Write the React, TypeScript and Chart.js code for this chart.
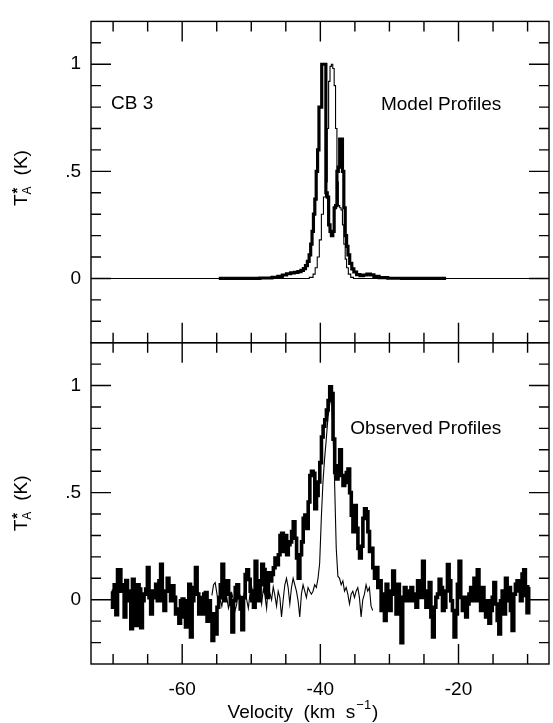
import React, { useEffect, useRef } from 'react';
import { Chart, registerables } from 'chart.js';

Chart.register(...registerables);

const FONT = '"Liberation Sans", Arial, Helvetica, sans-serif';

// Axis ranges and ticks
const X_MIN = -73.2;
const X_MAX = -6.9;
const Y_MIN = -0.3;
const Y_MAX = 1.2;
const X_TICKS = [-70, -65, -60, -55, -50, -45, -40, -35, -30, -25, -20, -15, -10];
const X_LABELS = [-60, -40, -20];
const Y_TICKS = [-0.2, -0.1, 0, 0.1, 0.2, 0.3, 0.4, 0.5, 0.6, 0.7, 0.8, 0.9, 1, 1.1];
const Y_LABELS = [0, 0.5, 1];
const Y_LABEL_TEXT: Record<string, string> = { '0': '0', '0.5': '.5', '1': '1' };

// Model profiles (top panel)
const modelThickV = [-54.7, -50, -47.5, -46.5, -45.8, -45.2, -44.6, -44.0, -43.5, -43.0, -42.6, -42.3, -42.0, -41.75, -41.5, -41.3, -41.1, -40.9, -40.7, -40.5, -40.3, -40.1, -39.9, -39.7, -39.5, -39.3, -39.1, -38.9, -38.7, -38.5, -38.3, -38.1, -37.9, -37.7, -37.5, -37.3, -37.1, -36.9, -36.7, -36.5, -36.3, -36.1, -35.9, -35.6, -35.3, -35.0, -34.5, -34.0, -33.5, -33.0, -32.5, -32.0, -31.0, -29.5, -27, -21.8];
const modelThickT = [0, 0, 0.002, 0.005, 0.01, 0.016, 0.022, 0.026, 0.028, 0.032, 0.038, 0.046, 0.06, 0.08, 0.11, 0.16, 0.22, 0.3, 0.37, 0.5, 0.6, 0.8, 0.8, 1.0, 1.0, 1.0, 0.4, 0.38, 0.25, 0.22, 0.2, 0.22, 0.33, 0.34, 0.5, 0.52, 0.65, 0.65, 0.5, 0.33, 0.2, 0.15, 0.11, 0.07, 0.045, 0.03, 0.018, 0.013, 0.016, 0.02, 0.017, 0.01, 0.004, 0.001, 0, 0];

const modelThinV = [-73.2, -42, -41.2, -40.9, -40.6, -40.3, -40.0, -39.7, -39.4, -39.1, -38.9, -38.7, -38.5, -38.3, -38.1, -37.9, -37.7, -37.5, -37.3, -37.1, -36.9, -36.7, -36.5, -36.3, -36.1, -35.8, -35.4, -35, -6.9];
const modelThinT = [0, 0, 0.005, 0.02, 0.05, 0.1, 0.18, 0.3, 0.38, 0.45, 0.7, 0.92, 0.99, 1.0, 0.98, 0.9, 0.7, 0.45, 0.34, 0.33, 0.32, 0.25, 0.16, 0.09, 0.05, 0.02, 0.005, 0, 0];

// Observed profiles (bottom panel): channel start + width (km/s), then intensities
const OBS_THICK_V0 = -70.2;
const OBS_THICK_DV = 0.24;
const obsThickT = [
  0.04, -0.035, 0.07, -0.07, 0.14, 0.14, 0.04, 0.07, -0.08, 0.09,
  0.04, -0.005, -0.135, 0.095, 0.055, -0.12, 0.07, 0.05, -0.13, -0.005,
  0.026, 0.05, 0.15, 0.01, -0.066, 0.04, 0.01, 0.072, -0.005, 0.088,
  0.165, -0.005, -0.05, 0.04, 0.1, 0.04, -0.005, 0.065, 0.011, -0.066,
  -0.043, -0.11, -0.005, 0.003, -0.08, -0.127, -0.005, 0.072, -0.174, -0.005,
  0.057, 0.15, 0.026, -0.066,
  0.01, -0.066, 0.026, 0.034, -0.1, -0.005, -0.1, -0.19, -0.066, -0.16,
  -0.035, 0.01, 0.07, 0.165, -0.005, 0.057, 0.088, 0.026, -0.02, -0.15,
  -0.005, 0.057, 0.07, 0.01, -0.043, -0.14, 0.01, 0.118, 0.14, 0.095,
  0.04, -0.005, -0.035, 0.18, 0.088, -0.005, 0.07, 0.165, 0.141, 0.041,
  0.011, 0.126, 0.088, 0.118, 0.149, 0.195, 0.164, 0.21, 0.3, 0.31,
  0.226, 0.3, 0.21, 0.257, 0.27, 0.318, 0.364, 0.287, 0.195, 0.1,
  0.21, 0.27, 0.38, 0.395, 0.333, 0.456, 0.58,
  0.6, 0.59, 0.425, 0.487, 0.55, 0.64, 0.76, 0.81, 0.84, 0.886,
  0.93, 0.994, 0.963, 0.75, 0.594, 0.564, 0.625, 0.7, 0.58, 0.533,
  0.548, 0.594, 0.61, 0.5, 0.395, 0.318, 0.44, 0.333, 0.24, 0.195,
  0.25, 0.38, 0.425, 0.41, 0.318, 0.226,
  0.24, 0.15, 0.1, 0.15, 0.057, 0.088, -0.05, 0.026, -0.097, 0.072,
  -0.035, -0.05, 0.041, 0.134, 0.026, -0.066, 0.072, -0.005, -0.2, 0.011,
  0.057, -0.005, 0.041, -0.005, 0.057, 0.026, -0.005, -0.035, 0.088, 0.026,
  0.011, 0.18, 0.041, -0.035, -0.005, 0.08, -0.08, -0.174, -0.035, 0.011,
  0.026, 0.095, 0.057, -0.05, -0.035, 0.041, 0.164, 0.088, -0.005, -0.05,
  -0.174, -0.066, 0.072, 0.18, 0.011, -0.05, 0.011, -0.08, -0.02, 0.026,
  0.057, -0.005, 0.1, -0.005, 0.14, 0.011, -0.05, 0.057, -0.035, -0.08,
  -0.005, -0.11, -0.05, 0.011, 0.08, -0.02, -0.097, -0.16, -0.005, 0.041,
  -0.066, 0.1, -0.005, 0.057, -0.05, -0.143, 0.026, 0.072, 0.088, 0.041,
  -0.005,
  0.12, 0.14, 0.02, -0.06, 0.06,
];

const OBS_THIN_V0 = -55.7;
const OBS_THIN_DV = 0.24;
const obsThinT = [
  0.02, 0.07, 0.08, 0.03, -0.02, 0.0, -0.03, 0.02, 0.05, 0.01,
  -0.04, -0.01, 0.03, 0.0, -0.05, -0.02, 0.04, 0.02, -0.03, 0.01,
  0.05, 0.0, -0.04, 0.03, 0.06, 0.02, -0.03, 0.04, 0.08, 0.03,
  -0.02, 0.05, 0.02, -0.04, 0.06, 0.03, 0.0, 0.06, 0.02, -0.03,
  0.04, 0.01, -0.08, 0.0, 0.07, 0.1, 0.057, -0.02, 0.057, 0.1,
  0.07, 0.04, -0.005, -0.08, 0.026, 0.07, 0.04, 0.01, 0.057, 0.04,
  0.026, 0.04, 0.07, 0.057, 0.1, 0.17, 0.38, 0.55, 0.66, 0.75,
  0.85, 0.91, 0.965, 0.8, 0.55, 0.24, 0.11, 0.1, 0.07, 0.088,
  0.04, 0.057, 0.026, -0.02, 0.026, 0.04, 0.01, 0.04, 0.057, 0.01,
  -0.08, 0.0, 0.026, 0.07, 0.04, 0.057, -0.03, -0.05,
];

// Text annotations (data coordinates)
const TXT_CB = { text: 'CB 3', v: -70.3, t: 0.79 };
const TXT_MODEL = { text: 'Model Profiles', v: -13.8, t: 0.785 };
const TXT_OBS = { text: 'Observed Profiles', v: -13.8, t: 0.775 };

function approx(a: number, b: number) {
  return Math.abs(a - b) < 1e-6;
}

function drawYTitle(ctx: CanvasRenderingContext2D, bx: number, cy: number) {
  ctx.save();
  ctx.translate(bx, cy);
  ctx.rotate(-Math.PI / 2);
  ctx.fillStyle = '#000';
  ctx.textBaseline = 'alphabetic';
  ctx.textAlign = 'left';
  const fMain = `19px ${FONT}`;
  const fSub = `12px ${FONT}`;
  ctx.font = fMain;
  const wT = ctx.measureText('T').width;
  const wK = ctx.measureText('(K)').width;
  ctx.font = fSub;
  const wA = ctx.measureText('A').width;
  const gap = 11;
  const total = wT + wA + gap + wK;
  let cx = -total / 2;
  ctx.font = fMain;
  ctx.fillText('T', cx, 0);
  cx += wT;
  ctx.font = fSub;
  ctx.fillText('A', cx, 4);
  ctx.font = `bold 15px ${FONT}`;
  ctx.fillText('*', cx + 1, -5);
  cx += wA + gap;
  ctx.font = fMain;
  ctx.fillText('(K)', cx, 0);
  ctx.restore();
}

function drawXTitle(ctx: CanvasRenderingContext2D, cx: number, by: number) {
  ctx.save();
  ctx.fillStyle = '#000';
  ctx.textBaseline = 'alphabetic';
  ctx.textAlign = 'left';
  const fMain = `19px ${FONT}`;
  const fSup = `13px ${FONT}`;
  const p1 = 'Velocity  (km  s';
  const p2 = '\u22121';
  const p3 = ')';
  ctx.font = fMain;
  const w1 = ctx.measureText(p1).width;
  const w3 = ctx.measureText(p3).width;
  ctx.font = fSup;
  const w2 = ctx.measureText(p2).width;
  let x = cx - (w1 + w2 + 2 + w3) / 2;
  ctx.font = fMain;
  ctx.fillText(p1, x, by);
  x += w1 + 1;
  ctx.font = fSup;
  ctx.fillText(p2, x, by - 9);
  x += w2 + 1;
  ctx.font = fMain;
  ctx.fillText(p3, x, by);
  ctx.restore();
}

const framePlugin = {
  id: 'frameTicks',
  afterDatasetsDraw(chart: any) {
    const ctx: CanvasRenderingContext2D = chart.ctx;
    const xs = chart.scales.x;
    const L = chart.chartArea.left;
    const R = chart.chartArea.right;
    ctx.save();
    ctx.strokeStyle = '#000';
    ctx.lineWidth = 1.4;
    for (const id of ['yMod', 'yObs']) {
      const ys = chart.scales[id];
      const top = ys.getPixelForValue(Y_MAX);
      const bot = ys.getPixelForValue(Y_MIN);
      ctx.strokeRect(L, top, R - L, bot - top);
      ctx.beginPath();
      for (const v of X_TICKS) {
        const px = xs.getPixelForValue(v);
        const len = X_LABELS.some((l) => approx(l, v)) ? 20 : 10;
        ctx.moveTo(px, top);
        ctx.lineTo(px, top + len);
        ctx.moveTo(px, bot);
        ctx.lineTo(px, bot - len);
      }
      for (const t of Y_TICKS) {
        const py = ys.getPixelForValue(t);
        const len = Y_LABELS.some((l) => approx(l, t)) ? 20 : 10;
        ctx.moveTo(L, py);
        ctx.lineTo(L + len, py);
        ctx.moveTo(R, py);
        ctx.lineTo(R - len, py);
      }
      ctx.stroke();
    }
    ctx.restore();
  },
  afterDraw(chart: any) {
    const ctx: CanvasRenderingContext2D = chart.ctx;
    const xs = chart.scales.x;
    const yMod = chart.scales.yMod;
    const yObs = chart.scales.yObs;
    ctx.save();
    ctx.fillStyle = '#000';
    ctx.font = `19px ${FONT}`;
    ctx.textBaseline = 'alphabetic';
    ctx.textAlign = 'left';
    ctx.fillText(TXT_CB.text, xs.getPixelForValue(TXT_CB.v), yMod.getPixelForValue(TXT_CB.t));
    ctx.textAlign = 'right';
    ctx.fillText(TXT_MODEL.text, xs.getPixelForValue(TXT_MODEL.v), yMod.getPixelForValue(TXT_MODEL.t));
    ctx.fillText(TXT_OBS.text, xs.getPixelForValue(TXT_OBS.v), yObs.getPixelForValue(TXT_OBS.t));
    ctx.restore();
    drawYTitle(ctx, 27, (yMod.top + yMod.bottom) / 2 - 4);
    drawYTitle(ctx, 27, (yObs.top + yObs.bottom) / 2);
    drawXTitle(ctx, 303, 718);
  },
};

export default function App() {
  const canvasRef = useRef<HTMLCanvasElement | null>(null);

  useEffect(() => {
    const canvas = canvasRef.current;
    if (!canvas) return;

    const modelThick = modelThickV.map((v, i) => ({ x: v, y: modelThickT[i] }));
    const modelThin = modelThinV.map((v, i) => ({ x: v, y: modelThinT[i] }));
    const obsThick = obsThickT.map((t, i) => ({ x: OBS_THICK_V0 + i * OBS_THICK_DV, y: t }));
    const obsThin = obsThinT.map((t, i) => ({ x: OBS_THIN_V0 + i * OBS_THIN_DV, y: t }));

    const yScale = () => ({
      type: 'linear' as const,
      position: 'left' as const,
      stack: 'panels',
      stackWeight: 1,
      min: Y_MIN,
      max: Y_MAX,
      grid: { display: false, drawTicks: false },
      border: { display: false },
      title: { display: false },
      ticks: {
        color: '#000',
        padding: 10,
        font: { size: 19, family: FONT },
        callback: (v: any) => Y_LABEL_TEXT[String(v)] ?? '',
      },
      afterBuildTicks: (axis: any) => {
        axis.ticks = Y_LABELS.map((v) => ({ value: v }));
      },
      afterFit: (axis: any) => {
        axis.width = 91;
      },
    });

    const chart = new Chart(canvas, {
      type: 'line',
      data: {
        datasets: [
          {
            label: 'Model thick',
            data: modelThick,
            yAxisID: 'yMod',
            borderColor: '#000',
            borderWidth: 3.2,
            pointRadius: 0,
            stepped: 'middle',
            fill: false,
          },
          {
            label: 'Model thin',
            data: modelThin,
            yAxisID: 'yMod',
            borderColor: '#000',
            borderWidth: 1.1,
            pointRadius: 0,
            stepped: 'middle',
            fill: false,
          },
          {
            label: 'Observed thick',
            data: obsThick,
            yAxisID: 'yObs',
            borderColor: '#000',
            borderWidth: 3.6,
            pointRadius: 0,
            stepped: 'middle',
            fill: false,
          },
          {
            label: 'Observed thin',
            data: obsThin,
            yAxisID: 'yObs',
            borderColor: '#000',
            borderWidth: 1.1,
            pointRadius: 0,
            tension: 0,
            fill: false,
          },
        ],
      },
      options: {
        animation: false,
        responsive: false,
        devicePixelRatio: 1,
        parsing: false as any,
        normalized: true,
        layout: { padding: { top: 13, right: 4, left: 0, bottom: 0 } },
        plugins: {
          legend: { display: false },
          tooltip: { enabled: false },
          title: { display: false },
        },
        scales: {
          x: {
            type: 'linear',
            position: 'bottom',
            min: X_MIN,
            max: X_MAX,
            grid: { display: false, drawTicks: false },
            border: { display: false },
            ticks: {
              color: '#000',
              padding: 14,
              maxRotation: 0,
              font: { size: 19, family: FONT },
              callback: (v: any) => String(v),
            },
            afterBuildTicks: (axis: any) => {
              axis.ticks = X_LABELS.map((v) => ({ value: v }));
            },
            afterFit: (axis: any) => {
              axis.height = 59;
            },
          },
          yObs: yScale(),
          yMod: yScale(),
        } as any,
      },
      plugins: [framePlugin],
    });

    return () => {
      chart.destroy();
    };
  }, []);

  return (
    <div style={{ position: 'absolute', left: 0, top: 0, width: 553, height: 723, background: '#fff' }}>
      <canvas ref={canvasRef} width={553} height={723} style={{ display: 'block' }} />
    </div>
  );
}
